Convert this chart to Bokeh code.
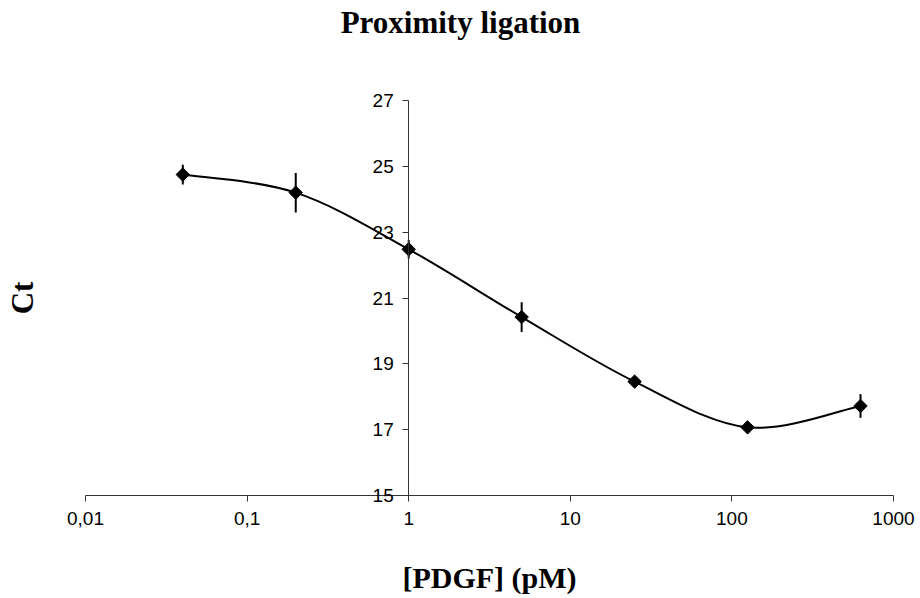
import math
from bokeh.plotting import figure
from bokeh.models import Range1d, FixedTicker, CustomJSTickFormatter, LinearAxis
from bokeh.embed import file_html
from bokeh.resources import INLINE

# data
conc = [0.04, 0.2, 1, 5, 25, 125, 625]
ct = [24.75, 24.2, 22.48, 20.42, 18.46, 17.07, 17.72]
ct_err = [0.3, 0.6, 0.28, 0.45, 0.12, 0.12, 0.36]
x_ticks = [0.01, 0.1, 1, 10, 100, 1000]
y_ticks = [15, 17, 19, 21, 23, 25, 27]
y_axis_at = 1

# layout (pixels on the canvas)
W, H = 920, 598
PX_L, PX_R = 85, 893      # pixel of first / last x tick
PY_T, PY_B = 100, 495     # pixel of top / bottom y tick

lx0, lx1 = math.log10(x_ticks[0]), math.log10(x_ticks[-1])
ppd = (PX_R - PX_L) / (lx1 - lx0)
x_lo = 10 ** (lx0 - PX_L / ppd)
x_hi = 10 ** (lx1 + (W - PX_R) / ppd)
ppu = (PY_B - PY_T) / (y_ticks[-1] - y_ticks[0])
y_hi = y_ticks[-1] + PY_T / ppu
y_lo = y_ticks[0] - (H - PY_B) / ppu

p = figure(width=W, height=H, x_axis_type="log",
           x_range=Range1d(x_lo, x_hi), y_range=Range1d(y_lo, y_hi),
           output_backend="svg", toolbar_location=None, title_location=None,
           min_border=0)
p.grid.visible = False
p.outline_line_color = None
p.background_fill_color = "white"
p.border_fill_color = "white"

AX_COLOR = "#333333"
SANS = "Liberation Sans"
SERIF = "Liberation Serif"

# x axis at y = 15
xa = p.xaxis[0]
xa.fixed_location = y_ticks[0]
xa.bounds = (x_ticks[0], x_ticks[-1])
xa.ticker = FixedTicker(ticks=x_ticks, minor_ticks=[])
xa.formatter = CustomJSTickFormatter(code="return tick.toString().replace('.', ',');")
xa.major_tick_in = 0
xa.major_tick_out = 6
xa.minor_tick_in = 0
xa.minor_tick_out = 0
xa.axis_line_color = AX_COLOR
xa.major_tick_line_color = AX_COLOR
xa.major_label_text_font = SANS
xa.major_label_text_font_size = "19px"
xa.major_label_text_color = "black"
xa.major_label_standoff = 10
xa.axis_label = "[PDGF] (pM)"
xa.axis_label_text_font = SERIF
xa.axis_label_text_font_style = "bold"
xa.axis_label_text_font_size = "30px"
xa.axis_label_text_color = "black"
xa.axis_label_standoff = 33

# y axis at x = 1
ya = p.yaxis[0]
ya.fixed_location = y_axis_at
ya.bounds = (y_ticks[0], y_ticks[-1])
ya.ticker = FixedTicker(ticks=y_ticks, minor_ticks=[])
ya.major_tick_in = 0
ya.major_tick_out = 6
ya.minor_tick_in = 0
ya.minor_tick_out = 0
ya.axis_line_color = AX_COLOR
ya.major_tick_line_color = AX_COLOR
ya.major_label_text_font = SANS
ya.major_label_text_font_size = "19px"
ya.major_label_text_color = "black"
ya.major_label_standoff = 9
ya.axis_label = "Ct"
ya.axis_label_text_font = SERIF
ya.axis_label_text_font_style = "bold"
ya.axis_label_text_font_size = "31px"
ya.axis_label_text_color = "black"
ya.axis_label_standoff = 329

# chart title, carried by a bare axis along the top edge
ta = LinearAxis(fixed_location=y_hi, ticker=FixedTicker(ticks=[]),
                axis_line_color=None, major_tick_line_color=None,
                minor_tick_line_color=None, major_label_text_color=None,
                axis_label="Proximity ligation", axis_label_text_font=SERIF,
                axis_label_text_font_style="bold", axis_label_text_font_size="31px",
                axis_label_text_color="black", axis_label_standoff=4)
p.add_layout(ta, "below")

# smooth curve (Catmull-Rom style bezier in log-x space)
lx = [math.log10(v) for v in conc]
n = len(lx)
x0s, y0s, x1s, y1s, cx0s, cy0s, cx1s, cy1s = [], [], [], [], [], [], [], []
for i in range(n - 1):
    pm = i - 1 if i > 0 else i
    pp = i + 2 if i + 2 < n else i + 1
    c0x = lx[i] + (lx[i + 1] - lx[pm]) / 6
    c0y = ct[i] + (ct[i + 1] - ct[pm]) / 6
    c1x = lx[i + 1] - (lx[pp] - lx[i]) / 6
    c1y = ct[i + 1] - (ct[pp] - ct[i]) / 6
    x0s.append(conc[i]); y0s.append(ct[i])
    x1s.append(conc[i + 1]); y1s.append(ct[i + 1])
    cx0s.append(10 ** c0x); cy0s.append(c0y)
    cx1s.append(10 ** c1x); cy1s.append(c1y)

p.bezier(x0=x0s, y0=y0s, x1=x1s, y1=y1s, cx0=cx0s, cy0=cy0s, cx1=cx1s, cy1=cy1s,
         line_color="black", line_width=2)

# error bars
lo = [v - e for v, e in zip(ct, ct_err)]
hi = [v + e for v, e in zip(ct, ct_err)]
p.segment(x0=conc, y0=lo, x1=conc, y1=hi, line_color="black", line_width=2)

# markers
p.scatter(conc, ct, marker="square", angle=math.pi / 4, size=9.5,
          fill_color="black", line_color="black")

open("out.html", "w").write(file_html(p, INLINE))
